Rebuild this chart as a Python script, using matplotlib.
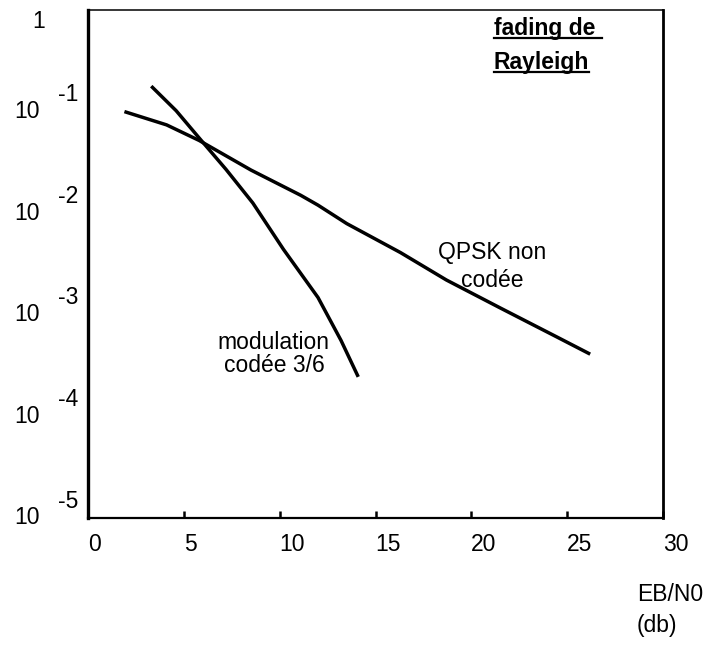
import matplotlib
matplotlib.use("Agg")
import matplotlib.pyplot as plt
import matplotlib.transforms as mtransforms
from matplotlib.lines import Line2D

plt.rcParams['font.family'] = ['Liberation Sans', 'DejaVu Sans']

# courbes (Eb/N0 en dB, taux d'erreur)
qpsk_x = [1.9, 4.1, 5.8, 8.5, 11.1, 12.0, 13.5, 16.3, 18.7, 21.5, 24.5, 26.2]
qpsk_ber = [1.0e-1, 7.4e-2, 5.2e-2, 2.66e-2, 1.5e-2, 1.2e-2, 7.9e-3,
            4.1e-3, 2.2e-3, 1.17e-3, 6.0e-4, 4.1e-4]

mod_x = [3.3, 4.6, 5.8, 7.2, 8.6, 10.2, 12.0, 13.2, 14.1]
mod_ber = [1.78e-1, 1.02e-1, 5.5e-2, 2.7e-2, 1.26e-2, 4.4e-3, 1.48e-3, 5.6e-4, 2.45e-4]

x_ticks = [0, 5, 10, 15, 20, 25, 30]
y_decades = [1e-1, 1e-2, 1e-3, 1e-4, 1e-5]
y_exponents = ['-1', '-2', '-3', '-4', '-5']

fs = 16.5

fig = plt.figure(figsize=(7.21, 6.46), dpi=100)
ax = fig.add_axes([88 / 721, 1 - 518 / 646, 575 / 721, 508 / 646])

ax.plot(qpsk_x, qpsk_ber, color='black', lw=2.5, solid_capstyle='butt')
ax.plot(mod_x, mod_ber, color='black', lw=2.5, solid_capstyle='butt')

ax.set_yscale('log')
ax.set_xlim(0, 30)
ax.set_ylim(1e-5, 1)
ax.set_yticks([])
ax.yaxis.set_minor_locator(matplotlib.ticker.NullLocator())

ax.set_xticks(x_ticks)
ax.set_xticklabels([str(v) for v in x_ticks], fontsize=fs)
for lab in ax.get_xticklabels():
    lab.set_ha('left')
ax.tick_params(axis='x', direction='in', length=5, width=1.8, pad=11)

ax.spines['left'].set_linewidth(2.4)
ax.spines['bottom'].set_linewidth(1.6)
ax.spines['top'].set_linewidth(1.1)
ax.spines['right'].set_linewidth(2.0)

# etiquettes de l'axe y : "10" et l'exposant decale
trans = mtransforms.blended_transform_factory(fig.transFigure, ax.transData)
ax.text(39 / 721, 1, '1', transform=mtransforms.offset_copy(trans, fig=fig, y=-12, units='dots'),
        ha='center', va='center', fontsize=fs)
for d, e in zip(y_decades, y_exponents):
    ax.text(27 / 721, d, '10', transform=trans, ha='center', va='center', fontsize=fs)
    ax.text(68 / 721, d, e, ha='center', va='center', fontsize=fs,
            transform=mtransforms.offset_copy(trans, fig=fig, y=17, units='dots'))

ax.text(9.7, 4.1e-4, 'modulation\ncodée 3/6', ha='center', va='center',
        fontsize=fs, linespacing=1.0)
ax.text(21.1, 3.0e-3, 'QPSK non\ncodée', ha='center', va='center',
        fontsize=fs, linespacing=1.3)

t1 = ax.text(0.706, 0.987, 'fading de ', transform=ax.transAxes, ha='left', va='top',
             fontsize=fs, fontweight='bold')
t2 = ax.text(0.706, 0.920, 'Rayleigh', transform=ax.transAxes, ha='left', va='top',
             fontsize=fs, fontweight='bold')

fig.text(637 / 721, 1 - 610 / 646, 'EB/N0\n(db)', ha='left', va='center',
         fontsize=fs, linespacing=1.4)

# soulignement du titre
fig.canvas.draw()
r = fig.canvas.get_renderer()
inv = fig.transFigure.inverted()
for t in (t1, t2):
    bb = t.get_window_extent(r)
    (x0, y0) = inv.transform((bb.x0, bb.y0 + 2))
    (x1, _) = inv.transform((bb.x1, bb.y0 + 2))
    fig.add_artist(Line2D([x0, x1], [y0, y0], color='black', lw=1.6, transform=fig.transFigure))

fig.savefig('out.png', dpi=100)
